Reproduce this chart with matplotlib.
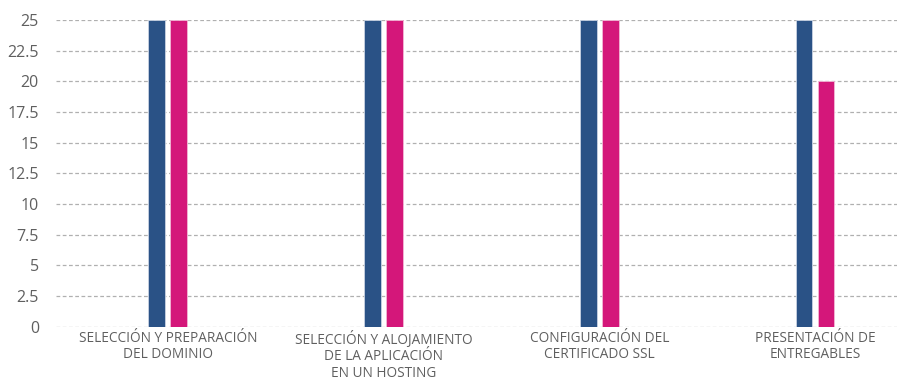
import numpy as np
import matplotlib
matplotlib.use("Agg")
import matplotlib.pyplot as plt

# Task progress per activity: planned vs. achieved
categories = [
    "SELECCIÓN Y PREPARACIÓN\nDEL DOMINIO",
    "SELECCIÓN Y ALOJAMIENTO\nDE LA APLICACIÓN\nEN UN HOSTING",
    "CONFIGURACIÓN DEL\nCERTIFICADO SSL",
    "PRESENTACIÓN DE\nENTREGABLES",
]
planned = [25, 25, 25, 25]
achieved = [25, 25, 25, 20]
yticks = [0, 2.5, 5, 7.5, 10, 12.5, 15, 17.5, 20, 22.5, 25]
ytick_labels = ["0", "2.5", "5", "7.5", "10", "12.5", "15", "17.5", "20", "22.5", "25"]

BLUE = "#2a5286"
PINK = "#d4177a"
GREY = "#5f5f5f"

plt.rcParams["font.family"] = ["Open Sans", "DejaVu Sans"]

fig = plt.figure(figsize=(8.97, 3.83), dpi=100)
ax = fig.add_axes([0.062, 0.147, 0.938, 0.801])

x = np.arange(len(categories))
w = 0.078
off = 0.051
ax.bar(x - off, planned, width=w, color=BLUE, edgecolor="#c9d3e3", linewidth=0.6, zorder=3)
ax.bar(x + off, achieved, width=w, color=PINK, edgecolor="#f2b8d6", linewidth=0.6, zorder=3)

ax.set_xlim(-0.52, 3.38)
ax.set_ylim(0, 25)
ax.set_yticks(yticks)
ax.set_yticklabels(ytick_labels, color=GREY, fontsize=11.5)
ax.set_xticks(x)
ax.set_xticklabels(categories, color=GREY, fontsize=9.8, linespacing=1.13)
ax.tick_params(axis="both", length=0)
ax.tick_params(axis="y", pad=12)
ax.tick_params(axis="x", pad=3)

ax.yaxis.grid(True, color="#b0b0b0", linestyle=(0, (3, 2)), linewidth=0.9, zorder=0)
ax.set_axisbelow(True)
for s in ax.spines.values():
    s.set_visible(False)

fig.savefig("out.png", dpi=100, facecolor="white")
